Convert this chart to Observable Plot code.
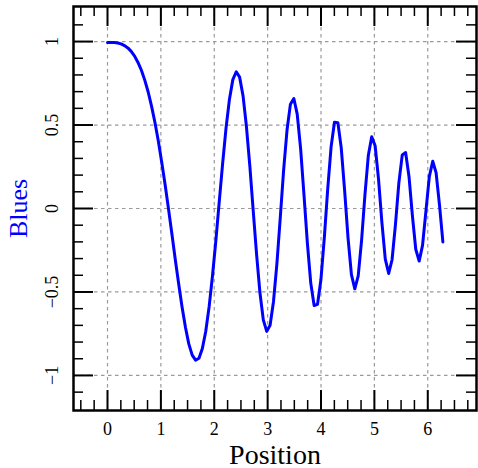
<!DOCTYPE html>
<html><head><meta charset="utf-8">
<script src="https://cdn.jsdelivr.net/npm/d3@7"></script>
<script src="https://cdn.jsdelivr.net/npm/@observablehq/plot@0.6"></script>
<style>body{margin:0;background:#fff}svg{display:block}</style>
</head><body><div id="chart"></div>
<script>
const positions = [0, 0.063, 0.127, 0.190, 0.254, 0.317, 0.381, 0.444, 0.508, 0.571,
  0.635, 0.698, 0.762, 0.825, 0.889, 0.952, 1.015, 1.079, 1.142, 1.206,
  1.269, 1.333, 1.396, 1.460, 1.523, 1.587, 1.650, 1.714, 1.777, 1.841,
  1.904, 1.967, 2.031, 2.094, 2.158, 2.221, 2.285, 2.348, 2.412, 2.475,
  2.539, 2.602, 2.666, 2.729, 2.793, 2.856, 2.919, 2.983, 3.046, 3.110,
  3.173, 3.237, 3.300, 3.364, 3.427, 3.491, 3.554, 3.618, 3.681, 3.745,
  3.808, 3.871, 3.935, 3.998, 4.062, 4.125, 4.189, 4.252, 4.316, 4.379,
  4.443, 4.506, 4.570, 4.633, 4.697, 4.760, 4.823, 4.887, 4.950, 5.014,
  5.077, 5.141, 5.204, 5.268, 5.331, 5.395, 5.458, 5.522, 5.585, 5.649,
  5.712, 5.775, 5.839, 5.902, 5.966, 6.029, 6.093, 6.156, 6.220, 6.283];
const blues = [0.995, 0.995, 0.994, 0.991, 0.986, 0.976, 0.962, 0.941, 0.913, 0.875,
  0.828, 0.769, 0.698, 0.613, 0.515, 0.404, 0.279, 0.144, -0.001, -0.151,
  -0.304, -0.451, -0.588, -0.711, -0.811, -0.878, -0.908, -0.897, -0.839, -0.735,
  -0.588, -0.403, -0.190, 0.043, 0.273, 0.483, 0.655, 0.772, 0.819, 0.787,
  0.676, 0.494, 0.257, -0.010, -0.275, -0.505, -0.667, -0.736, -0.699, -0.557,
  -0.333, -0.054, 0.231, 0.472, 0.625, 0.659, 0.565, 0.359, 0.082, -0.209,
  -0.447, -0.581, -0.574, -0.427, -0.176, 0.115, 0.369, 0.517, 0.514, 0.363,
  0.106, -0.176, -0.396, -0.481, -0.404, -0.191, 0.082, 0.319, 0.430, 0.376,
  0.178, -0.084, -0.303, -0.389, -0.307, -0.095, 0.152, 0.321, 0.335, 0.190,
  -0.042, -0.244, -0.315, -0.221, -0.014, 0.191, 0.283, 0.214, 0.020, -0.200];
const xTicks = [0, 1, 2, 3, 4, 5, 6];
const xTickLabels = ["0", "1", "2", "3", "4", "5", "6"];
const yTicks = [-1, -0.5, 0, 0.5, 1];
const yTickLabels = ["\u22121", "\u22120.5", "0", "0.5", "1"];
const xMinor = [-0.5, -0.25, 0.25, 0.5, 0.75, 1.25, 1.5, 1.75, 2.25, 2.5, 2.75, 3.25, 3.5, 3.75,
  4.25, 4.5, 4.75, 5.25, 5.5, 5.75, 6.25, 6.5, 6.75];
const yMinor = [-1.1, -0.9, -0.8, -0.7, -0.6, -0.4, -0.3, -0.2, -0.1, 0.1, 0.2, 0.3, 0.4,
  0.6, 0.7, 0.8, 0.9, 1.1];
const xLabel = "Position";
const yLabel = "Blues";

const W = 478, H = 468, mL = 73, mR = 2, mT = 6, mB = 58;
const fw = W - mL - mR, fh = H - mT - mB;
const MAJ = 20, MIN = 10;
const font = "'Liberation Serif', 'Times New Roman', serif";
const data = positions.map((x, i) => ({x, y: blues[i]}));
const grid = {stroke: "#9a9a9a", strokeOpacity: 1, strokeWidth: 1.2, strokeDasharray: "3.5,3.5"};

const chart = Plot.plot({
  width: W, height: H,
  marginLeft: mL, marginRight: mR, marginTop: mT, marginBottom: mB,
  x: {domain: [-0.637, 6.913], axis: null},
  y: {domain: [-1.21, 1.21], axis: null},
  style: {fontFamily: font, background: "white", color: "black"},
  marks: [
    Plot.gridX(xTicks, grid),
    Plot.gridY(yTicks, grid),
    Plot.line(data, {x: "x", y: "y", stroke: "#0000ff", strokeWidth: 3}),
    Plot.tickX(xTicks, {x: d => d, insetTop: fh - MAJ, stroke: "black", strokeWidth: 2}),
    Plot.tickX(xTicks, {x: d => d, insetBottom: fh - MAJ, stroke: "black", strokeWidth: 2}),
    Plot.tickY(yTicks, {y: d => d, insetRight: fw - MAJ, stroke: "black", strokeWidth: 2}),
    Plot.tickY(yTicks, {y: d => d, insetLeft: fw - MAJ, stroke: "black", strokeWidth: 2}),
    Plot.tickX(xMinor, {x: d => d, insetTop: fh - MIN, stroke: "black", strokeWidth: 1.5}),
    Plot.tickX(xMinor, {x: d => d, insetBottom: fh - MIN, stroke: "black", strokeWidth: 1.5}),
    Plot.tickY(yMinor, {y: d => d, insetRight: fw - MIN, stroke: "black", strokeWidth: 1.5}),
    Plot.tickY(yMinor, {y: d => d, insetLeft: fw - MIN, stroke: "black", strokeWidth: 1.5}),
    Plot.frame({stroke: "black", strokeWidth: 2.5}),
    Plot.text(xTicks, {x: d => d, text: (d, i) => xTickLabels[i], frameAnchor: "bottom", dy: 19,
      lineAnchor: "middle", fontSize: 18, fontFamily: font, fill: "black"}),
    Plot.text(yTicks, {y: d => d, text: (d, i) => yTickLabels[i], frameAnchor: "left", dx: -21.5,
      rotate: -90, lineAnchor: "middle", textAnchor: "middle", fontSize: 18, fontFamily: font, fill: "black"}),
    Plot.text([xLabel], {text: d => d, frameAnchor: "bottom", dy: 53, lineAnchor: "bottom",
      fontSize: 28, fontFamily: font, fill: "black"}),
    Plot.text([yLabel], {text: d => d, frameAnchor: "left", dx: -47, rotate: -90, lineAnchor: "bottom",
      textAnchor: "middle", fontSize: 26, fontFamily: font, fill: "#0000ff"})
  ]
});
document.getElementById("chart").appendChild(chart);
</script>
</body></html>
